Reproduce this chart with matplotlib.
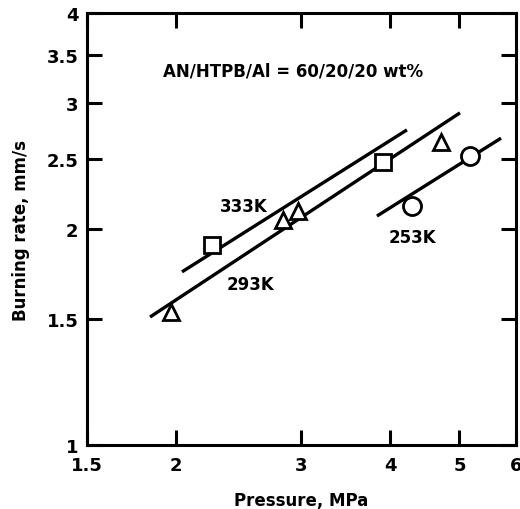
import matplotlib
matplotlib.use("Agg")
import matplotlib.pyplot as plt
from matplotlib.ticker import FixedLocator, FixedFormatter, NullLocator

plt.rcParams['font.family'] = ['DejaVu Sans']
plt.rcParams['font.weight'] = 'bold'

# Data (pressure MPa, burning rate mm/s)
tri_p = [1.97, 2.83, 2.97, 4.71]
tri_r = [1.53, 2.06, 2.12, 2.64]
sq_p = [2.25, 3.90]
sq_r = [1.90, 2.48]
circ_p = [4.29, 5.17]
circ_r = [2.15, 2.53]

# Fit lines (end points)
line333_p = [2.04, 4.22]
line333_r = [1.743, 2.749]
line293_p = [1.84, 5.01]
line293_r = [1.508, 2.904]
line253_p = [3.83, 5.72]
line253_r = [2.085, 2.677]

xticks = [1.5, 2, 3, 4, 5, 6]
xticklabels = ["1.5", "2", "3", "4", "5", "6"]
yticks = [1, 1.5, 2, 2.5, 3, 3.5, 4]
yticklabels = ["1", "1.5", "2", "2.5", "3", "3.5", "4"]

fig = plt.figure(figsize=(5.2, 5.1), dpi=100)
ax = fig.add_axes([0.167, 0.1255, 0.825, 0.847])
ax.set_xscale('log')
ax.set_yscale('log')
ax.set_xlim(1.5, 6)
ax.set_ylim(1, 4)

lw = 2.4
ax.plot(line333_p, line333_r, color='black', lw=lw, solid_capstyle='butt')
ax.plot(line293_p, line293_r, color='black', lw=lw, solid_capstyle='butt')
ax.plot(line253_p, line253_r, color='black', lw=lw, solid_capstyle='butt')

ax.plot(tri_p, tri_r, linestyle='none', marker='^', ms=12, mfc='white', mec='black', mew=2)
ax.plot(sq_p, sq_r, linestyle='none', marker='s', ms=11, mfc='white', mec='black', mew=2)
ax.plot(circ_p, circ_r, linestyle='none', marker='o', ms=13, mfc='white', mec='black', mew=2)

for ax_ in [ax.xaxis, ax.yaxis]:
    ax_.set_minor_locator(NullLocator())
ax.xaxis.set_major_locator(FixedLocator(xticks))
ax.xaxis.set_major_formatter(FixedFormatter(xticklabels))
ax.yaxis.set_major_locator(FixedLocator(yticks))
ax.yaxis.set_major_formatter(FixedFormatter(yticklabels))
ax.tick_params(which='major', direction='in', length=11, width=2.2,
               top=True, right=True, labelsize=13)
ax.tick_params(axis='x', pad=8)
ax.tick_params(axis='y', pad=6)

for s in ax.spines.values():
    s.set_linewidth(2.2)

def fig_text(xpx, ypx, s, size=12):
    fig.text(xpx / 520, 1 - ypx / 510, s, ha='center', va='center',
             fontsize=size, fontweight='bold')

fig_text(293, 72, "AN/HTPB/Al = 60/20/20 wt%", size=12)
fig_text(244, 207, "333K")
fig_text(250, 285, "293K")
fig_text(412, 238, "253K")

ax.set_xlabel("Pressure, MPa", fontsize=12, fontweight='bold', labelpad=12)
ax.set_ylabel("Burning rate, mm/s", fontsize=12, fontweight='bold', labelpad=12)

fig.savefig("out.png", dpi=100)
